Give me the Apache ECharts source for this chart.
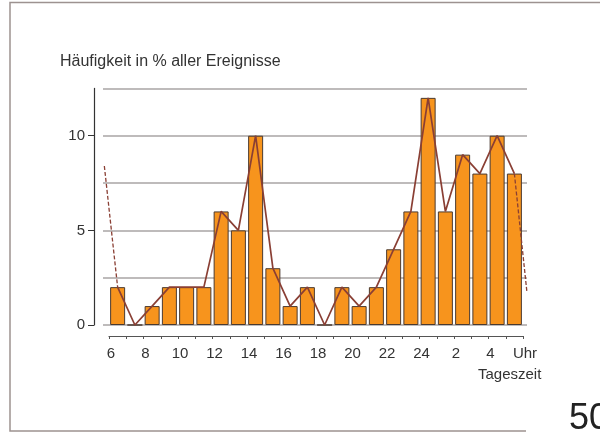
<!DOCTYPE html>
<html>
<head>
<meta charset="utf-8">
<script src="https://cdn.jsdelivr.net/npm/echarts@6/dist/echarts.min.js"></script>
<style>
  html, body { margin: 0; padding: 0; background: #fff; }
  #chart { width: 600px; height: 432px; }
</style>
</head>
<body>
<div id="chart"></div>
<script>
// Stunden ab 6 Uhr, je ein Balken
var hours = [6, 7, 8, 9, 10, 11, 12, 13, 14, 15, 16, 17, 18, 19, 20, 21, 22, 23, 24, 1, 2, 3, 4, 5];
var percent = [2, 0, 1, 2, 2, 2, 6, 5, 10, 3, 1, 2, 0, 2, 1, 2, 4, 6, 12, 6, 9, 8, 10, 8];
// gestrichelte Fortsetzung am Rand (x in Stunden ab 6 Uhr)
var wrapBefore = [[-0.27, 8.4], [0.5, 2]];
var wrapAfter = [[23.5, 8], [24.22, 1.8]];
var yTickValues = [0, 5, 10];

var chart;

function initChart() {
    chart = echarts.init(document.getElementById('chart'));

    var barData = percent.map(function (v, i) { return [i + 0.5, v]; });

    var font = 'Liberation Sans, Arial, sans-serif';
    // Gitterlinien ragen links 6px und rechts 4px ueber die Stundenachse hinaus
    var pxPerHour = 414 / 24;

    var options = {
        animation: false,
        backgroundColor: '#fff',
        grid: [
            {left: 109, width: 414, top: 88.4, height: 236.6},
            {left: 103, width: 424, top: 88.4, height: 236.6}
        ],
        xAxis: [
            {
                type: 'value',
                gridIndex: 0,
                min: 0,
                max: 24,
                interval: 1,
                offset: 11,
                axisLine: {show: true, onZero: false, lineStyle: {color: '#555', width: 1.2}},
                axisTick: {show: true, length: 3, lineStyle: {color: '#555'}},
                splitLine: {show: false},
                axisLabel: {
                    color: '#333',
                    fontSize: 15,
                    fontFamily: font,
                    margin: 10,
                    padding: [0, 0, 0, 4],
                    formatter: function (v) {
                        if (v % 2 !== 0) return '';
                        if (v === 24) return 'Uhr';
                        return String(hours[v]);
                    }
                }
            },
            {
                type: 'value',
                gridIndex: 1,
                min: -6 / pxPerHour,
                max: 24 + 4 / pxPerHour,
                show: false
            }
        ],
        yAxis: [
            {
                type: 'value',
                gridIndex: 0,
                min: 0,
                max: 12.5,
                interval: 2.5,
                offset: 15,
                axisLine: {show: true, onZero: false, lineStyle: {color: '#333', width: 1.2}},
                axisTick: {show: true, length: 6, customValues: yTickValues, lineStyle: {color: '#333'}},
                splitLine: {show: false},
                axisLabel: {
                    customValues: yTickValues,
                    color: '#333',
                    fontSize: 15,
                    fontFamily: font,
                    margin: 9
                }
            },
            {
                type: 'value',
                gridIndex: 1,
                min: 0,
                max: 12.5,
                interval: 2.5,
                axisLine: {show: false},
                axisTick: {show: false},
                axisLabel: {show: false},
                splitLine: {show: true, lineStyle: {color: '#a8a4a4', width: 1.5}}
            }
        ],
        series: [
            {
                type: 'bar',
                xAxisIndex: 0,
                yAxisIndex: 0,
                data: barData,
                barWidth: 15,
                itemStyle: {color: '#f7941d', borderColor: '#4a3a30', borderWidth: 1},
                z: 2
            },
            {
                type: 'line',
                xAxisIndex: 0,
                yAxisIndex: 0,
                data: barData,
                symbol: 'none',
                clip: false,
                lineStyle: {color: '#8a3f34', width: 1.7},
                z: 3
            },
            {
                type: 'line',
                xAxisIndex: 1,
                yAxisIndex: 1,
                data: wrapBefore,
                symbol: 'none',
                clip: false,
                lineStyle: {color: '#8a3f34', width: 1.3, type: [4, 2]},
                z: 3
            },
            {
                type: 'line',
                xAxisIndex: 1,
                yAxisIndex: 1,
                data: wrapAfter,
                symbol: 'none',
                clip: false,
                lineStyle: {color: '#8a3f34', width: 1.3, type: [4, 2]},
                z: 3
            }
        ],
        graphic: [
            {
                type: 'polyline',
                shape: {points: [[600, 2.5], [10, 2.5], [10, 431], [526, 431]]},
                style: {stroke: '#9d9290', lineWidth: 1.5, fill: null}
            },
            {
                type: 'text',
                left: 60,
                top: 54,
                style: {text: 'Häufigkeit in % aller Ereignisse', fill: '#333', font: '16px ' + font}
            },
            {
                type: 'text',
                left: 478,
                top: 367,
                style: {text: 'Tageszeit', fill: '#333', font: '15px ' + font}
            },
            {
                type: 'text',
                left: 569,
                top: 401,
                style: {text: '50', fill: '#222', font: '36px ' + font}
            }
        ]
    };

    chart.setOption(options);
}

initChart();
</script>
</body>
</html>
